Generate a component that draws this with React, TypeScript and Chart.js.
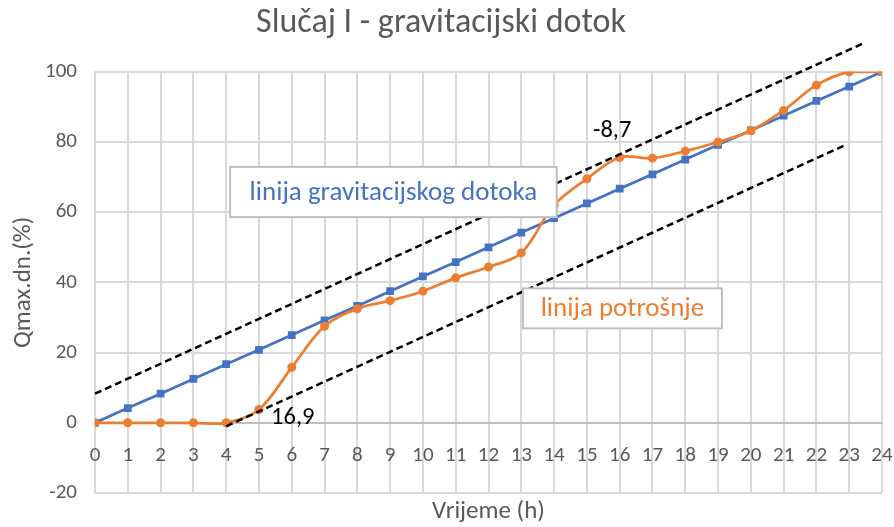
import { useEffect, useRef } from 'react';
import { Chart, registerables } from 'chart.js';

Chart.register(...registerables);

// ---------- data ----------
const hours = [0, 1, 2, 3, 4, 5, 6, 7, 8, 9, 10, 11, 12, 13, 14, 15, 16, 17, 18, 19, 20, 21, 22, 23, 24];
const gravitacijskiDotok = [0, 4.2, 8.3, 12.5, 16.7, 20.8, 25, 29.2, 33.3, 37.5, 41.7, 45.8, 50, 54.2, 58.3, 62.5, 66.7, 70.8, 75, 79.2, 83.3, 87.5, 91.7, 95.8, 100];
const potrosnja = [0, 0, 0, 0, 0, 3.8, 15.8, 27.5, 32.5, 34.8, 37.5, 41.3, 44.4, 48.4, 62, 69.5, 75.6, 75.4, 77.4, 80, 83.2, 89, 96.2, 100, 100];
const upperTangentX = [0, 23.4];
const upperTangentY = [8.3, 108];
const lowerTangentX = [4, 22.9];
const lowerTangentY = [-1, 79.2];
const yTickMin = -20;
const yTickMax = 100;
const yTickStep = 20;
const xTickMin = 0;
const xTickMax = 24;

const titleText = 'Slučaj I - gravitacijski dotok';
const xTitle = 'Vrijeme (h)';
const yTitle = 'Qmax.dn.(%)';
const deficitLabel = '-8,7';
const surplusLabel = '16,9';
const gravBoxLabel = 'linija gravitacijskog dotoka';
const consBoxLabel = 'linija potrošnje';

const FONT = 'Calibri, Carlito, Lato, sans-serif';
const TEXT = '#595959';
const GRID = '#D9D9D9';
const BLUE = '#4472C4';
const ORANGE = '#ED7D31';

const annotationPlugin = {
  id: 'textAnnotations',
  afterDatasetsDraw(chart: any) {
    const { ctx, scales } = chart;
    const xs = scales.x;
    const ys = scales.y;
    const px = (v: number) => xs.getPixelForValue(v);
    const py = (v: number) => ys.getPixelForValue(v);
    ctx.save();
    const boxes = [
      { x0: 4.12, x1: 14.08, y0: 72.9, y1: 58.6, text: gravBoxLabel, color: BLUE },
      { x0: 13.05, x1: 19.12, y0: 38.3, y1: 26.9, text: consBoxLabel, color: ORANGE },
    ];
    for (const b of boxes) {
      const l = px(b.x0), r = px(b.x1), t = py(b.y0), bt = py(b.y1);
      ctx.fillStyle = '#FFFFFF';
      ctx.fillRect(l, t, r - l, bt - t);
      ctx.strokeStyle = '#BFBFBF';
      ctx.lineWidth = 2;
      ctx.strokeRect(l, t, r - l, bt - t);
      ctx.fillStyle = b.color;
      ctx.font = `27px ${FONT}`;
      ctx.textAlign = 'center';
      ctx.textBaseline = 'middle';
      ctx.fillText(b.text, (l + r) / 2, (t + bt) / 2 + 1);
    }
    ctx.fillStyle = '#000000';
    ctx.font = `24.5px ${FONT}`;
    ctx.textAlign = 'center';
    ctx.textBaseline = 'middle';
    ctx.fillText(deficitLabel, px(15.77), py(83.1));
    ctx.fillText(surplusLabel, px(6.03), py(1.4));
    ctx.restore();
  },
};

export default function App() {
  const canvasRef = useRef<HTMLCanvasElement | null>(null);

  useEffect(() => {
    if (!canvasRef.current) return;
    const chart = new Chart(canvasRef.current, {
      type: 'line',
      data: {
        datasets: [
          {
            label: 'upper',
            data: upperTangentX.map((x, i) => ({ x, y: upperTangentY[i] })),
            borderColor: '#000000',
            borderWidth: 2.5,
            borderDash: [7, 4],
            pointRadius: 0,
            clip: false as any,
            order: 0,
          },
          {
            label: 'lower',
            data: lowerTangentX.map((x, i) => ({ x, y: lowerTangentY[i] })),
            borderColor: '#000000',
            borderWidth: 2.5,
            borderDash: [7, 4],
            pointRadius: 0,
            clip: false as any,
            order: 0,
          },
          {
            label: 'potrošnja',
            data: hours.map((h, i) => ({ x: h, y: potrosnja[i] })),
            borderColor: ORANGE,
            backgroundColor: ORANGE,
            borderWidth: 2.75,
            pointStyle: 'circle',
            pointRadius: 4.5,
            pointBorderWidth: 0,
            tension: 0.35,
            order: 1,
          },
          {
            label: 'gravitacijski dotok',
            data: hours.map((h, i) => ({ x: h, y: gravitacijskiDotok[i] })),
            borderColor: BLUE,
            backgroundColor: BLUE,
            borderWidth: 2.75,
            pointStyle: 'rect',
            pointRadius: 5.5,
            pointBorderWidth: 0,
            tension: 0,
            order: 2,
          },
        ],
      },
      options: {
        animation: false,
        responsive: false,
        layout: { padding: { left: 0, right: 12, top: 0, bottom: 0 } },
        plugins: {
          legend: { display: false },
          tooltip: { enabled: false },
          title: {
            display: true,
            text: titleText,
            color: TEXT,
            font: { family: FONT, size: 34, weight: 'normal' },
            padding: { top: 3, bottom: 28 },
          },
        },
        scales: {
          x: {
            type: 'linear',
            position: 'bottom',
            min: xTickMin,
            max: xTickMax,
            ticks: { stepSize: 1, display: false },
            grid: { color: GRID, lineWidth: 2, drawTicks: false },
            border: { display: false },
            title: {
              display: true,
              text: xTitle,
              color: TEXT,
              font: { family: FONT, size: 25 },
              padding: { top: 0, bottom: 0 },
            },
            afterFit: (s: any) => {
              s.height = 34;
              s.paddingLeft = 0;
              s.paddingRight = 0;
            },
          },
          xAxisLabels: {
            type: 'linear',
            axis: 'x',
            position: { y: 0 } as any,
            min: xTickMin,
            max: xTickMax,
            ticks: {
              stepSize: 1,
              color: TEXT,
              font: { family: FONT, size: 21 },
              padding: 20,
              maxRotation: 0,
              autoSkip: false,
            },
            grid: { display: false, drawTicks: false },
            border: { display: true, color: '#BFBFBF', width: 2 },
            afterFit: (s: any) => {
              s.paddingLeft = 0;
              s.paddingRight = 0;
            },
          },
          y: {
            type: 'linear',
            min: yTickMin,
            max: yTickMax,
            ticks: {
              stepSize: yTickStep,
              color: TEXT,
              font: { family: FONT, size: 21 },
              padding: 18,
            },
            grid: { color: GRID, lineWidth: 2, drawTicks: false },
            border: { display: false },
            title: {
              display: true,
              text: yTitle,
              color: TEXT,
              font: { family: FONT, size: 25 },
              padding: { top: 9, bottom: 0 },
            },
            afterFit: (s: any) => {
              s.width = 95;
            },
          },
        },
      } as any,
      plugins: [annotationPlugin],
    });
    return () => chart.destroy();
  }, []);

  return (
    <div style={{ position: 'fixed', left: 0, top: 0, width: 894, height: 527, background: '#fff' }}>
      <canvas ref={canvasRef} width={894} height={527} style={{ display: 'block' }} />
    </div>
  );
}
